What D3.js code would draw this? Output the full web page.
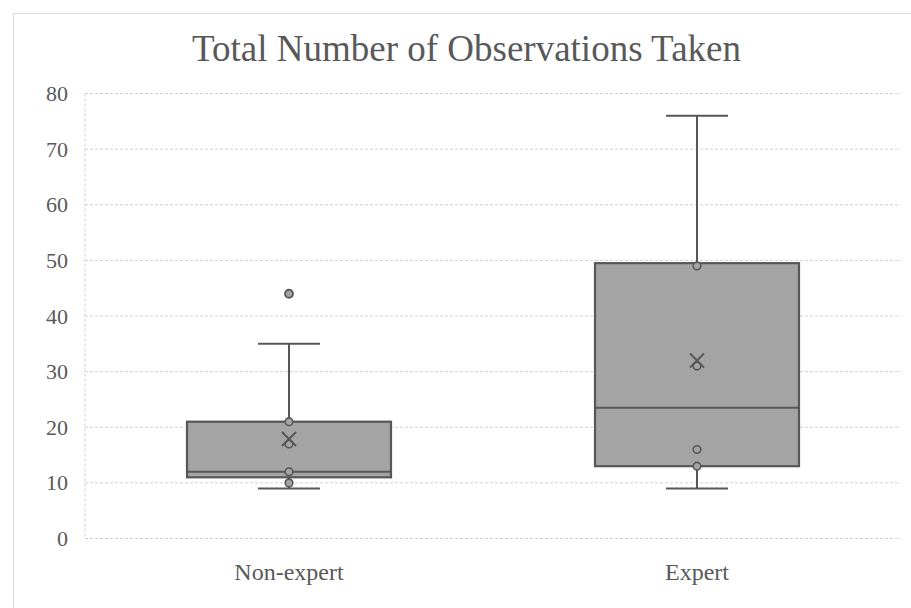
<!DOCTYPE html>
<html>
<head>
<meta charset="utf-8">
<script src="https://cdn.jsdelivr.net/npm/d3@7"></script>
<style>
  html, body { margin: 0; padding: 0; background: #fff; }
  svg { display: block; }
  text { font-family: "Liberation Serif", "Times New Roman", serif; fill: #595959; }
</style>
</head>
<body>
<svg id="chart" width="911" height="608"></svg>
<script>
// Box-plot summary per group
const categories = ["Non-expert", "Expert"];
const whiskerLow = [9, 9];
const quartile1 = [11, 13];
const medians = [12, 23.5];
const quartile3 = [21, 49.5];
const whiskerHigh = [35, 76];
const means = [17.9, 32];
const innerPoints = [[21, 17, 12, 10], [49, 31, 16, 13]];
const outliers = [[44], []];
const yTicks = [0, 10, 20, 30, 40, 50, 60, 70, 80];
const title = "Total Number of Observations Taken";

const svg = d3.select("#chart");
const W = 911, H = 608;
const plot = { left: 85, right: 901, top: 93.5, bottom: 538.5 };

const x = d3.scaleBand().domain(categories).range([plot.left, plot.right]).padding(0);
const y = d3.scaleLinear().domain([0, 80]).range([plot.bottom, plot.top]);

const lineColor = "#575757";
const boxFill = "#a4a4a4";
const gridColor = "#d0d0d0";

// chart frame
svg.append("rect")
  .attr("x", 13.5).attr("y", 13.5)
  .attr("width", W).attr("height", H)
  .attr("fill", "#fff").attr("stroke", "#d9d9d9").attr("stroke-width", 1);

// title
svg.append("text")
  .attr("x", 466.5).attr("y", 61)
  .attr("text-anchor", "middle")
  .style("font-size", "37px")
  .text(title);

// horizontal gridlines
svg.append("g").selectAll("line").data(yTicks).join("line")
  .attr("x1", plot.left).attr("x2", plot.right)
  .attr("y1", d => y(d)).attr("y2", d => y(d))
  .attr("stroke", gridColor).attr("stroke-width", 1)
  .attr("stroke-dasharray", "3,2");

// left edge of the plot area
svg.append("line")
  .attr("x1", plot.left).attr("x2", plot.left)
  .attr("y1", y(80)).attr("y2", y(0))
  .attr("stroke", gridColor).attr("stroke-width", 1)
  .attr("stroke-dasharray", "3,2");

// y axis labels
const yAxis = d3.axisLeft(y).tickValues(yTicks).tickSize(0).tickPadding(17);
const yg = svg.append("g").attr("transform", `translate(${plot.left},0)`).call(yAxis);
yg.select(".domain").remove();
yg.selectAll("text")
  .style("font-size", "22px")
  .style("font-family", "'Liberation Serif', serif")
  .attr("fill", "#595959");

// x axis labels
const xAxis = d3.axisBottom(x).tickSize(0).tickPadding(24);
const xg = svg.append("g").attr("transform", `translate(0,${plot.bottom})`).call(xAxis);
xg.select(".domain").remove();
xg.selectAll("text")
  .style("font-size", "24px")
  .style("font-family", "'Liberation Serif', serif")
  .attr("fill", "#595959");

const boxW = x.bandwidth() * 0.5;
const capW = 62;

const groups = svg.append("g").selectAll("g").data(categories).join("g")
  .attr("transform", d => `translate(${x(d) + x.bandwidth() / 2},0)`);

// whiskers
groups.append("line")
  .attr("x1", 0).attr("x2", 0)
  .attr("y1", (d, i) => y(quartile3[i])).attr("y2", (d, i) => y(whiskerHigh[i]))
  .attr("stroke", lineColor).attr("stroke-width", 2);
groups.append("line")
  .attr("x1", 0).attr("x2", 0)
  .attr("y1", (d, i) => y(quartile1[i])).attr("y2", (d, i) => y(whiskerLow[i]))
  .attr("stroke", lineColor).attr("stroke-width", 2);
groups.append("line")
  .attr("x1", -capW / 2).attr("x2", capW / 2)
  .attr("y1", (d, i) => y(whiskerHigh[i])).attr("y2", (d, i) => y(whiskerHigh[i]))
  .attr("stroke", lineColor).attr("stroke-width", 2);
groups.append("line")
  .attr("x1", -capW / 2).attr("x2", capW / 2)
  .attr("y1", (d, i) => y(whiskerLow[i])).attr("y2", (d, i) => y(whiskerLow[i]))
  .attr("stroke", lineColor).attr("stroke-width", 2);

// boxes
groups.append("rect")
  .attr("x", -boxW / 2).attr("width", boxW)
  .attr("y", (d, i) => y(quartile3[i]))
  .attr("height", (d, i) => y(quartile1[i]) - y(quartile3[i]))
  .attr("fill", boxFill).attr("stroke", lineColor).attr("stroke-width", 2.2);

// medians
groups.append("line")
  .attr("x1", -boxW / 2).attr("x2", boxW / 2)
  .attr("y1", (d, i) => y(medians[i])).attr("y2", (d, i) => y(medians[i]))
  .attr("stroke", lineColor).attr("stroke-width", 2);

// inner points and outliers
groups.each(function (d, i) {
  d3.select(this).selectAll("circle.inner").data(innerPoints[i]).join("circle")
    .attr("class", "inner")
    .attr("cx", 0).attr("cy", v => y(v)).attr("r", 3.8)
    .attr("fill", boxFill).attr("stroke", lineColor).attr("stroke-width", 1.6);
  d3.select(this).selectAll("circle.outlier").data(outliers[i]).join("circle")
    .attr("class", "outlier")
    .attr("cx", 0).attr("cy", v => y(v)).attr("r", 4)
    .attr("fill", boxFill).attr("stroke", lineColor).attr("stroke-width", 1.8);
});

// mean markers
const mk = 7;
groups.append("path")
  .attr("d", (d, i) => {
    const cy = y(means[i]);
    return `M${-mk},${cy - mk}L${mk},${cy + mk}M${-mk},${cy + mk}L${mk},${cy - mk}`;
  })
  .attr("stroke", lineColor).attr("stroke-width", 2).attr("fill", "none");
</script>
</body>
</html>
